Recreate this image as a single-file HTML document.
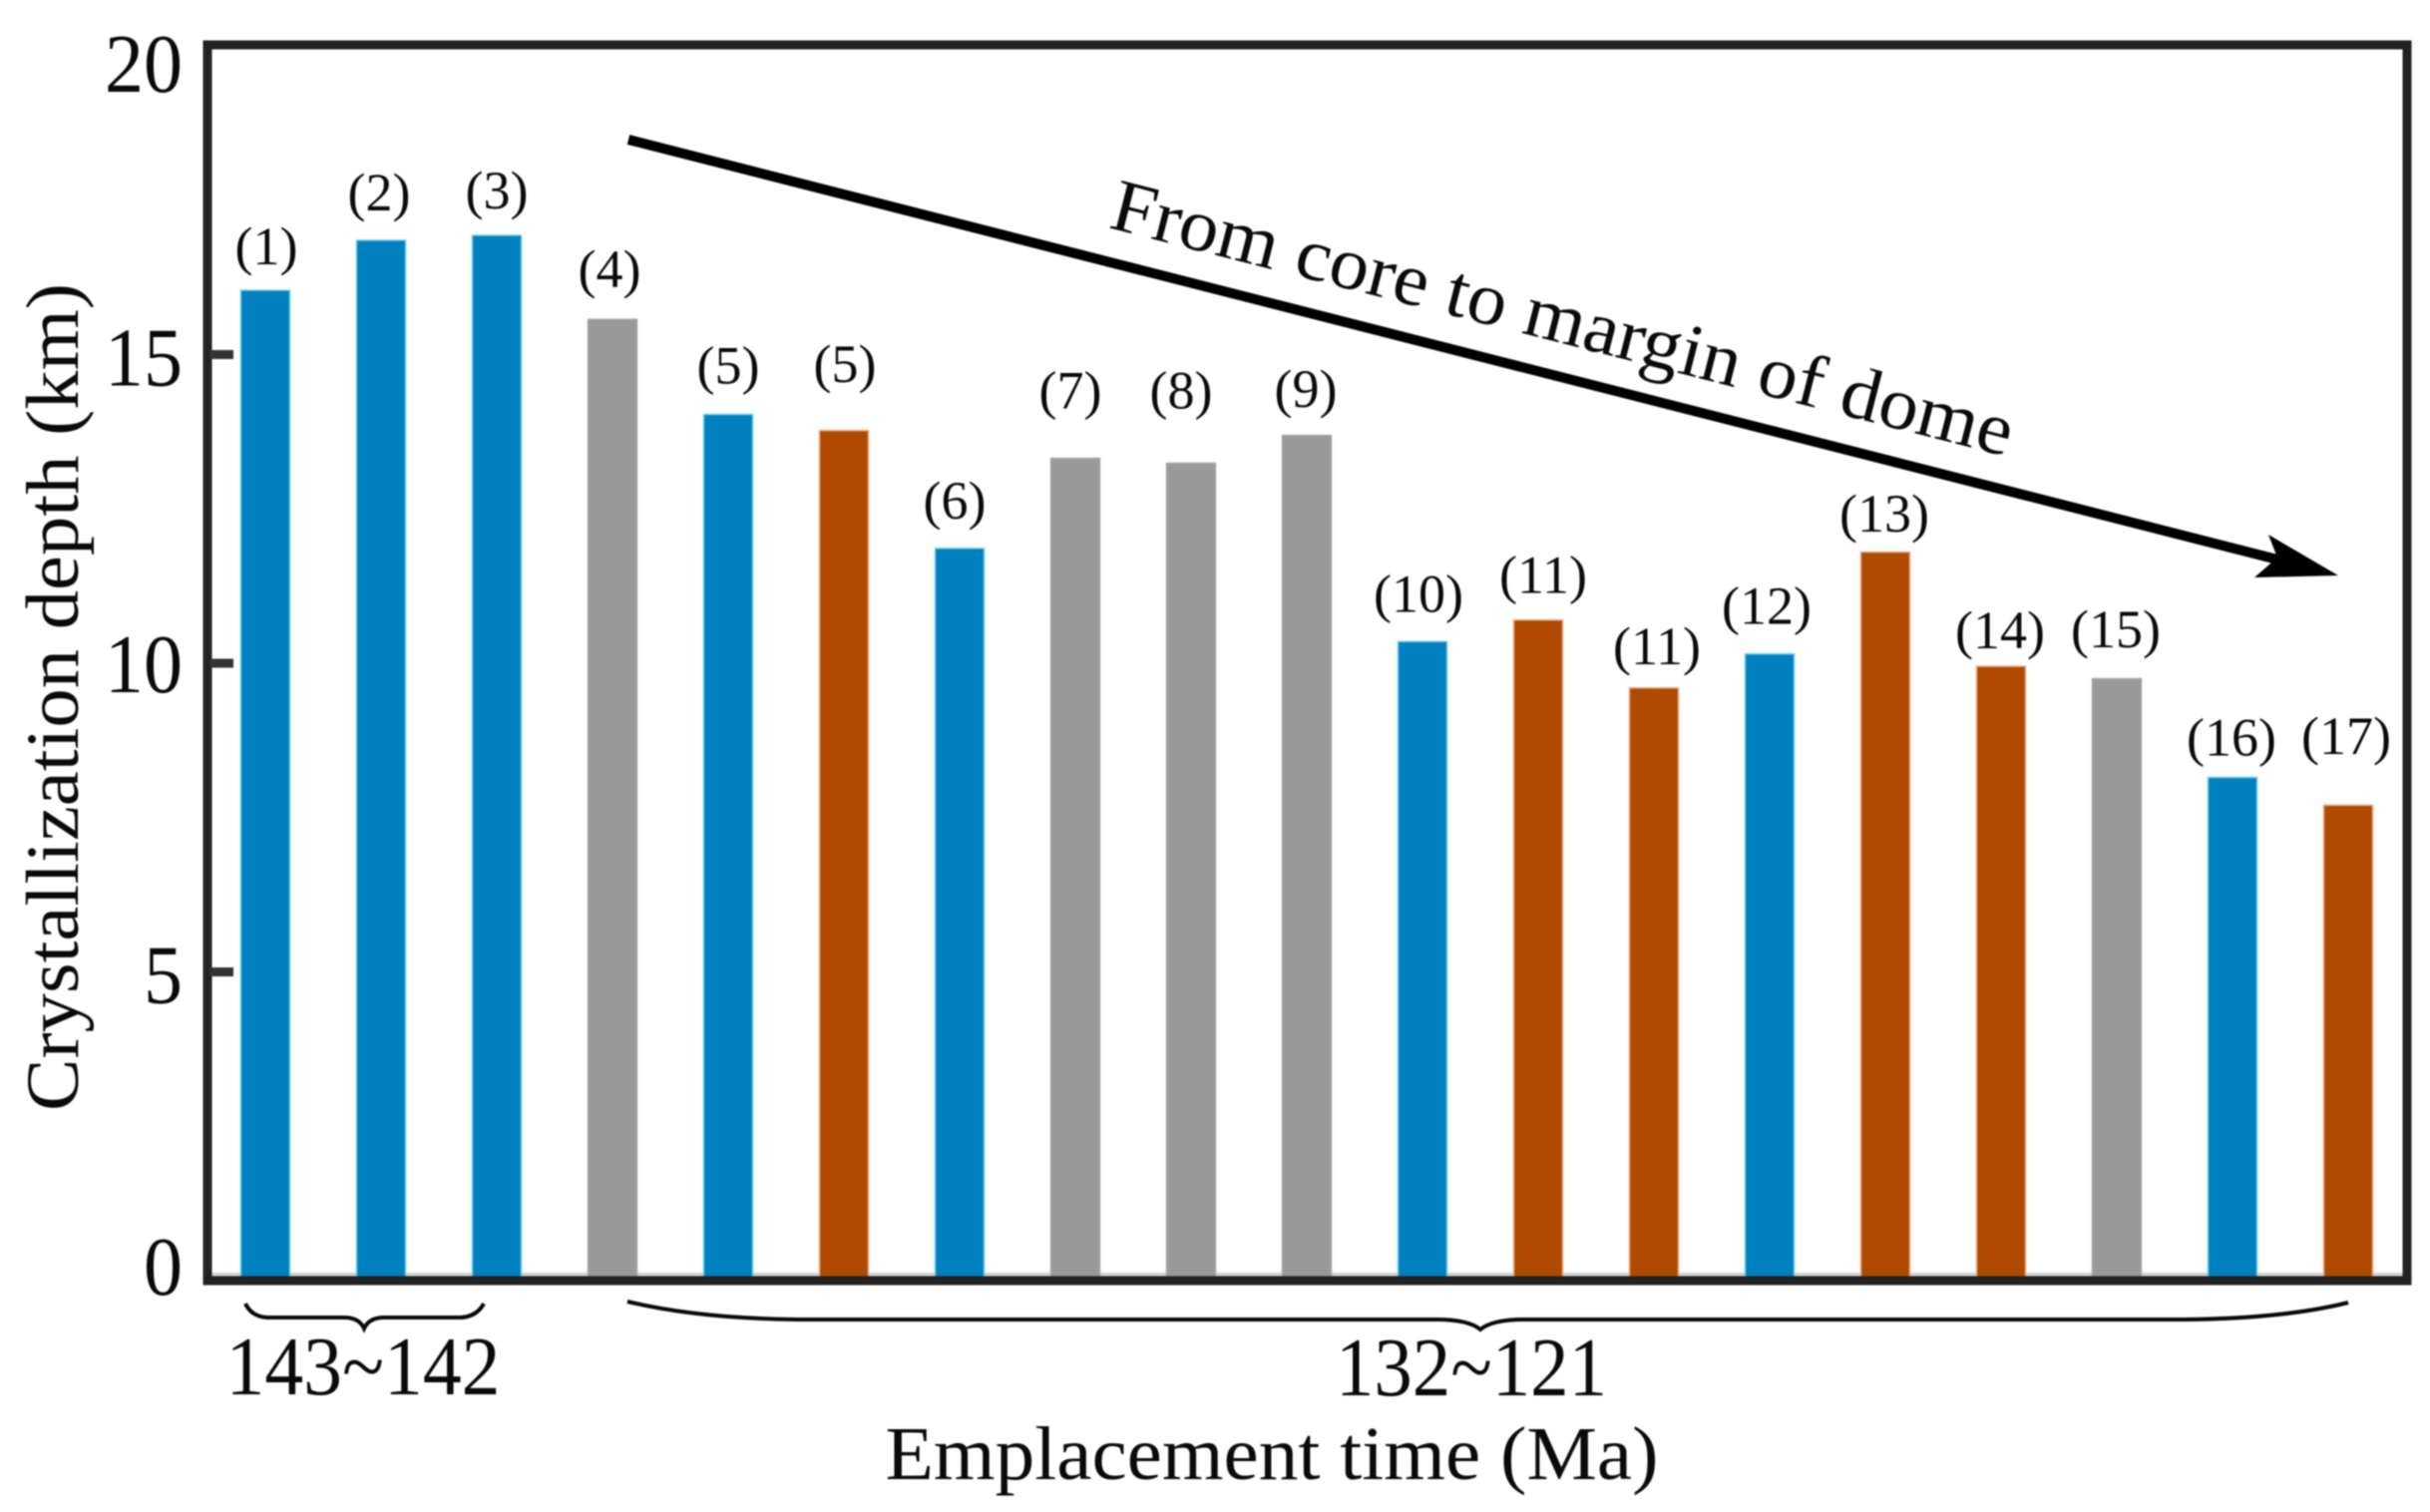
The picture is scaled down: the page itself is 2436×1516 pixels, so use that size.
<!DOCTYPE html>
<html lang="en">
<head>
<meta charset="utf-8">
<title>Crystallization depth vs emplacement time</title>
<style>
html,body{margin:0;padding:0;background:#fff;}
svg{display:block;filter:blur(0.7px);}
text{font-family:"Liberation Serif","DejaVu Serif",serif;fill:#0a0a0a;}
</style>
</head>
<body>
<svg id="chart" xmlns="http://www.w3.org/2000/svg" width="2436" height="1516" viewBox="0 0 2436 1516">
  <rect x="0" y="0" width="2436" height="1516" fill="#ffffff"/>
  <rect x="212" y="1276" width="2198" height="5" fill="#d2d2d2"/>
  <g id="bars"></g>
  <g id="bar-labels"></g>
  <rect x="208" y="45" width="2205" height="1239" fill="none" stroke="#222222" stroke-width="9"/>
  <g id="y-axis"></g>
  <text transform="translate(78,699) rotate(-90)" text-anchor="middle" font-size="75" textLength="830" lengthAdjust="spacingAndGlyphs">Crystallization depth (km)</text>
  <text x="1275" y="1483" text-anchor="middle" font-size="76" textLength="775" lengthAdjust="spacingAndGlyphs">Emplacement time (Ma)</text>
  <path d="M246 1307 Q252 1320 268 1321 L345 1321 Q360 1321 365 1332 Q370 1321 385 1321 L462 1321 Q478 1320 485 1307" fill="none" stroke="#0a0a0a" stroke-width="4"/>
  <text x="364" y="1398" text-anchor="middle" font-size="84" textLength="275" lengthAdjust="spacingAndGlyphs">143~142</text>
  <path d="M629 1305 Q700 1322 800 1323 L1440 1323 Q1472 1323 1484 1333 Q1496 1323 1528 1323 L2190 1323 Q2290 1322 2354 1306" fill="none" stroke="#0a0a0a" stroke-width="4"/>
  <text x="1475" y="1399" text-anchor="middle" font-size="84" textLength="272" lengthAdjust="spacingAndGlyphs">132~121</text>
  <g>
    <line x1="630" y1="140" x2="2295" y2="564" stroke="#000000" stroke-width="10"/>
    <polygon points="2344,577 2260,579 2283,559 2274,536" fill="#000000"/>
  </g>
  <text transform="translate(1110,228) rotate(14.3)" font-size="75" textLength="930" lengthAdjust="spacingAndGlyphs">From core to margin of dome</text>
</svg>
<script>
const barLabels = ["(1)","(2)","(3)","(4)","(5)","(5)","(6)","(7)","(8)","(9)","(10)","(11)","(11)","(12)","(13)","(14)","(15)","(16)","(17)"];
const depths = [16.04,16.85,16.93,15.57,14.03,13.77,11.86,13.32,13.24,13.69,10.35,10.7,9.6,10.15,11.8,9.95,9.75,8.15,7.7];
const groups = ["blue","blue","blue","gray","blue","brown","blue","gray","gray","gray","blue","brown","brown","blue","brown","brown","gray","blue","brown"];
const tickValues = [0,5,10,15,20];
const tickLabels = ["0","5","10","15","20"];

const NS = "http://www.w3.org/2000/svg";
const groupColors = {blue:"#0080bf", gray:"#999999", brown:"#b04a00"};
const groupEdges = {blue:"#62cdee", gray:"#a8a8a8", brown:"#e8a982"};
function xScale(i){ return 266 + 116 * i; }
function yScale(v){ return 1284 - 61.9 * v; }

function drawBars(){
  const layer = document.getElementById("bars");
  const width = 49;
  depths.forEach(function(d, i){
    const rect = document.createElementNS(NS, "rect");
    
    
    rect.setAttribute("x", xScale(i) - width / 2);
    rect.setAttribute("y", yScale(d));
    rect.setAttribute("width", width);
    rect.setAttribute("height", yScale(0) - yScale(d));
    rect.setAttribute("fill", groupColors[groups[i]]);
    rect.setAttribute("stroke", groupEdges[groups[i]]);
    rect.setAttribute("stroke-width", "1.5");
    layer.appendChild(rect);
  });
}

function drawBarLabels(){
  const layer = document.getElementById("bar-labels");
  /* small hand-placement nudges relative to each bar's top and centre */
  const nudgeUp = [-4,0,-3,2,1,18.5,0,20,25,-1.5,0,-3,-6,0,-9.5,-12,1.5,-8,21.5];
  const nudgeX = [1,-2,0,-3,0,1,-5,-5,-10,-1,-4,5,3,-3,-1,-1,-1,-1,-2];
  barLabels.forEach(function(label, i){
    const t = document.createElementNS(NS, "text");
    
    
    t.setAttribute("x", xScale(i) + nudgeX[i]);
    t.setAttribute("y", yScale(depths[i]) - 30 - nudgeUp[i]);
    t.setAttribute("text-anchor", "middle");
    t.setAttribute("font-size", "54");
    t.textContent = label;
    layer.appendChild(t);
  });
}

function drawYAxis(){
  const layer = document.getElementById("y-axis");
  const baselineShift = [14,31,29,31,46];
  tickValues.forEach(function(v, i){
    if (v > 0 && v < 20) {
      const tick = document.createElementNS(NS, "line");
      
      
      tick.setAttribute("x1", 210);
      tick.setAttribute("x2", 234);
      tick.setAttribute("y1", yScale(v));
      tick.setAttribute("y2", yScale(v));
      tick.setAttribute("stroke", "#333333");
      tick.setAttribute("stroke-width", "9");
      layer.appendChild(tick);
    }
    const t = document.createElementNS(NS, "text");
    
    
    t.setAttribute("x", 183);
    t.setAttribute("y", yScale(v) + baselineShift[i]);
    t.setAttribute("text-anchor", "end");
    t.setAttribute("font-size", "84");
    t.setAttribute("textLength", tickLabels[i].length * 39);
    t.setAttribute("lengthAdjust", "spacingAndGlyphs");
    t.textContent = tickLabels[i];
    layer.appendChild(t);
  });
}

drawBars();
drawBarLabels();
drawYAxis();
</script>
</body>
</html>
